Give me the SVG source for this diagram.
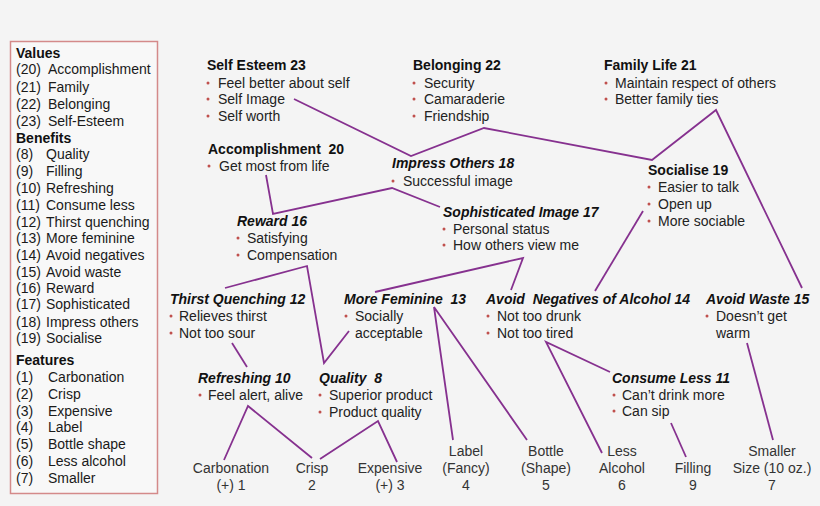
<svg xmlns="http://www.w3.org/2000/svg" width="820" height="506" viewBox="0 0 820 506">
<style>
text{font-family:"Liberation Sans",Arial,sans-serif;font-size:14px;fill:#222}
.h{font-weight:bold;fill:#111}
.i{font-style:italic}
.lg{fill:#1a1a1a}
.f{text-anchor:middle;fill:#333}
.dot{fill:#c0504d}
.ln{stroke:#86318f;stroke-width:1.8;fill:none;stroke-linejoin:miter}
</style>
<rect width="820" height="506" fill="#f4f4f4"/>
<g id="legend">
<rect x="10.5" y="41.5" width="147" height="452" fill="#f8f8f8" stroke="#d48a8a" stroke-width="1.5"/>
<text class="h" x="16" y="58">Values</text>
<text class="lg" x="16" y="74">(20)</text><text class="lg" x="48" y="74">Accomplishment</text>
<text class="lg" x="16" y="92">(21)</text><text class="lg" x="48" y="92">Family</text>
<text class="lg" x="16" y="109">(22)</text><text class="lg" x="48" y="109">Belonging</text>
<text class="lg" x="16" y="126">(23)</text><text class="lg" x="48" y="126">Self-Esteem</text>
<text class="h" x="16" y="143">Benefits</text>
<text class="lg" x="16" y="159">(8)</text><text class="lg" x="46" y="159">Quality</text>
<text class="lg" x="16" y="176">(9)</text><text class="lg" x="46" y="176">Filling</text>
<text class="lg" x="16" y="193">(10)</text><text class="lg" x="46" y="193">Refreshing</text>
<text class="lg" x="16" y="210">(11)</text><text class="lg" x="46" y="210">Consume less</text>
<text class="lg" x="16" y="227">(12)</text><text class="lg" x="46" y="227">Thirst quenching</text>
<text class="lg" x="16" y="243">(13)</text><text class="lg" x="46" y="243">More feminine</text>
<text class="lg" x="16" y="260">(14)</text><text class="lg" x="46" y="260">Avoid negatives</text>
<text class="lg" x="16" y="277">(15)</text><text class="lg" x="46" y="277">Avoid waste</text>
<text class="lg" x="16" y="293">(16)</text><text class="lg" x="46" y="293">Reward</text>
<text class="lg" x="16" y="309">(17)</text><text class="lg" x="46" y="309">Sophisticated</text>
<text class="lg" x="16" y="327">(18)</text><text class="lg" x="46" y="327">Impress others</text>
<text class="lg" x="16" y="343">(19)</text><text class="lg" x="46" y="343">Socialise</text>
<text class="h" x="16" y="365">Features</text>
<text class="lg" x="16" y="382">(1)</text><text class="lg" x="48" y="382">Carbonation</text>
<text class="lg" x="16" y="399">(2)</text><text class="lg" x="48" y="399">Crisp</text>
<text class="lg" x="16" y="416">(3)</text><text class="lg" x="48" y="416">Expensive</text>
<text class="lg" x="16" y="432">(4)</text><text class="lg" x="48" y="432">Label</text>
<text class="lg" x="16" y="449">(5)</text><text class="lg" x="48" y="449">Bottle shape</text>
<text class="lg" x="16" y="466">(6)</text><text class="lg" x="48" y="466">Less alcohol</text>
<text class="lg" x="16" y="483">(7)</text><text class="lg" x="48" y="483">Smaller</text>
</g>
<g id="connectors">
<polyline class="ln" points="294,99 411,156 484,128 652,160 716,110 802,288"/>
<polyline class="ln" points="266,175 273,214 392,188 440,207"/>
<polyline class="ln" points="225,288 307,266 324,363 349,331"/>
<polyline class="ln" points="375,292 523,258 511,290"/>
<line class="ln" x1="643" y1="211" x2="595" y2="291"/>
<line class="ln" x1="232" y1="343" x2="247" y2="367"/>
<polyline class="ln" points="224,460 248,406 312,458"/>
<polyline class="ln" points="320,459 378,421 397,462"/>
<polyline class="ln" points="453,440 434,307 527,440"/>
<polyline class="ln" points="602,453 546,342 610,372"/>
<line class="ln" x1="671" y1="423" x2="686" y2="457"/>
<line class="ln" x1="747" y1="343" x2="773" y2="440"/>
</g>
<g id="n23">
<text class="h" x="207" y="70">Self Esteem 23</text>
<circle class="dot" cx="208" cy="83" r="1.5"/><text x="218" y="88">Feel better about self</text>
<circle class="dot" cx="208" cy="99" r="1.5"/><text x="218" y="104">Self Image</text>
<circle class="dot" cx="208" cy="116" r="1.5"/><text x="218" y="121">Self worth</text>
</g>
<g id="n22">
<text class="h" x="413" y="70">Belonging 22</text>
<circle class="dot" cx="414" cy="83" r="1.5"/><text x="424" y="88">Security</text>
<circle class="dot" cx="414" cy="99" r="1.5"/><text x="424" y="104">Camaraderie</text>
<circle class="dot" cx="414" cy="116" r="1.5"/><text x="424" y="121">Friendship</text>
</g>
<g id="n21">
<text class="h" x="604" y="70">Family Life 21</text>
<circle class="dot" cx="606" cy="83" r="1.5"/><text x="615" y="88">Maintain respect of others</text>
<circle class="dot" cx="606" cy="99" r="1.5"/><text x="615" y="104">Better family ties</text>
</g>
<g id="n20">
<text class="h" x="208" y="154" xml:space="preserve">Accomplishment  20</text>
<circle class="dot" cx="209" cy="166" r="1.5"/><text x="219" y="171">Get most from life</text>
</g>
<g id="n18">
<text class="h i" x="392" y="168">Impress Others 18</text>
<circle class="dot" cx="393" cy="181" r="1.5"/><text x="403" y="186">Successful image</text>
</g>
<g id="n19">
<text class="h" x="648" y="175">Socialise 19</text>
<circle class="dot" cx="649" cy="187" r="1.5"/><text x="658" y="192">Easier to talk</text>
<circle class="dot" cx="649" cy="204" r="1.5"/><text x="658" y="209">Open up</text>
<circle class="dot" cx="649" cy="221" r="1.5"/><text x="658" y="226">More sociable</text>
</g>
<g id="n16">
<text class="h i" x="237" y="226">Reward 16</text>
<circle class="dot" cx="238" cy="238" r="1.5"/><text x="247" y="243">Satisfying</text>
<circle class="dot" cx="238" cy="255" r="1.5"/><text x="247" y="260">Compensation</text>
</g>
<g id="n17">
<text class="h i" x="443" y="217">Sophisticated Image 17</text>
<circle class="dot" cx="444" cy="229" r="1.5"/><text x="453" y="234">Personal status</text>
<circle class="dot" cx="444" cy="245" r="1.5"/><text x="453" y="250">How others view me</text>
</g>
<g id="n12">
<text class="h i" x="170" y="304">Thirst Quenching 12</text>
<circle class="dot" cx="171" cy="316" r="1.5"/><text x="179" y="321">Relieves thirst</text>
<circle class="dot" cx="171" cy="333" r="1.5"/><text x="179" y="338">Not too sour</text>
</g>
<g id="n13">
<text class="h i" x="344" y="304" xml:space="preserve">More Feminine  13</text>
<circle class="dot" cx="346" cy="316" r="1.5"/><text x="355" y="321">Socially</text>
<text x="355" y="338">acceptable</text>
</g>
<g id="n14">
<text class="h i" x="486" y="304" xml:space="preserve">Avoid  Negatives of Alcohol 14</text>
<circle class="dot" cx="488" cy="316" r="1.5"/><text x="497" y="321">Not too drunk</text>
<circle class="dot" cx="488" cy="333" r="1.5"/><text x="497" y="338">Not too tired</text>
</g>
<g id="n15">
<text class="h i" x="706" y="304">Avoid Waste 15</text>
<circle class="dot" cx="707" cy="316" r="1.5"/><text x="716" y="321">Doesn’t get</text>
<text x="716" y="338">warm</text>
</g>
<g id="n10">
<text class="h i" x="198" y="383">Refreshing 10</text>
<circle class="dot" cx="200" cy="395" r="1.5"/><text x="208" y="400">Feel alert, alive</text>
</g>
<g id="n8">
<text class="h i" x="319" y="383" xml:space="preserve">Quality  8</text>
<circle class="dot" cx="320" cy="395" r="1.5"/><text x="329" y="400">Superior product</text>
<circle class="dot" cx="320" cy="412" r="1.5"/><text x="329" y="417">Product quality</text>
</g>
<g id="n11">
<text class="h i" x="612" y="383">Consume Less 11</text>
<circle class="dot" cx="614" cy="395" r="1.5"/><text x="622" y="400">Can’t drink more</text>
<circle class="dot" cx="614" cy="411" r="1.5"/><text x="622" y="416">Can sip</text>
</g>
<g id="f1"><text class="f" x="231" y="473">Carbonation</text><text class="f" x="231" y="490">(+) 1</text></g>
<g id="f2"><text class="f" x="312" y="473">Crisp</text><text class="f" x="312" y="490">2</text></g>
<g id="f3"><text class="f" x="390" y="473">Expensive</text><text class="f" x="390" y="490">(+) 3</text></g>
<g id="f4"><text class="f" x="466" y="456">Label</text><text class="f" x="466" y="473">(Fancy)</text><text class="f" x="466" y="490">4</text></g>
<g id="f5"><text class="f" x="546" y="456">Bottle</text><text class="f" x="546" y="473">(Shape)</text><text class="f" x="546" y="490">5</text></g>
<g id="f6"><text class="f" x="622" y="456">Less</text><text class="f" x="622" y="473">Alcohol</text><text class="f" x="622" y="490">6</text></g>
<g id="f9"><text class="f" x="693" y="473">Filling</text><text class="f" x="693" y="490">9</text></g>
<g id="f7"><text class="f" x="772" y="456">Smaller</text><text class="f" x="772" y="473">Size (10 oz.)</text><text class="f" x="772" y="490">7</text></g>
</svg>
